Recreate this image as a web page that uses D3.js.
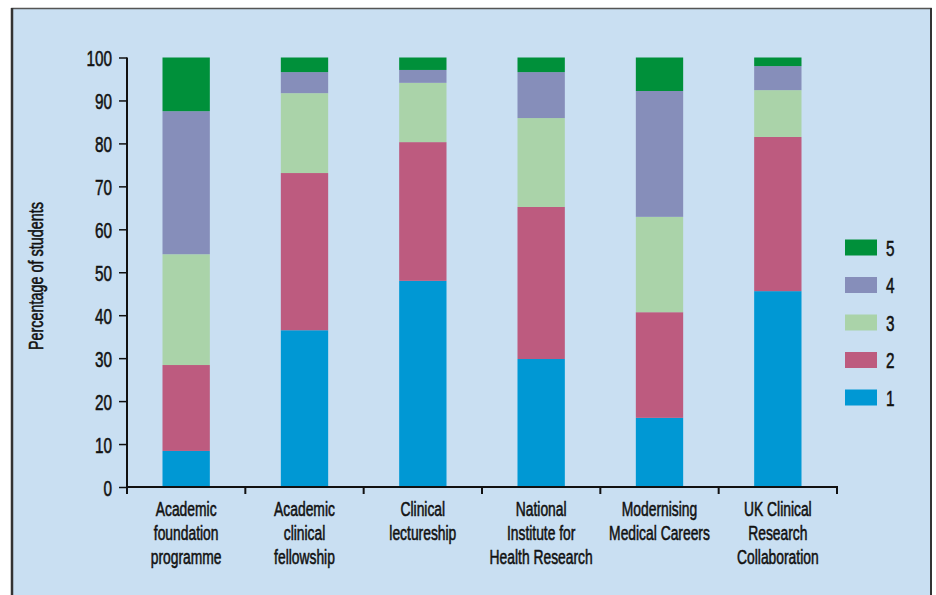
<!DOCTYPE html>
<html>
<head>
<meta charset="utf-8">
<script src="https://cdn.jsdelivr.net/npm/d3@7"></script>
<style>
  html, body { margin: 0; padding: 0; background: #ffffff; }
  svg { display: block; }
  text { font-family: "Liberation Sans", Arial, sans-serif; fill: #111; stroke: #111; stroke-width: 0.55px; }
</style>
</head>
<body>
<svg id="chart" width="936" height="595"></svg>
<script>
const categories = [
  ["Academic", "foundation", "programme"],
  ["Academic", "clinical", "fellowship"],
  ["Clinical", "lectureship"],
  ["National", "Institute for", "Health Research"],
  ["Modernising", "Medical Careers"],
  ["UK Clinical", "Research", "Collaboration"]
];
const seriesKeys = ["1", "2", "3", "4", "5"];
const s1 = [8.4, 36.5, 48.0, 29.8, 16.1, 45.6];
const s2 = [20.0, 36.6, 32.3, 35.4, 24.6, 35.9];
const s3 = [25.8, 18.6, 13.8, 20.7, 22.2, 10.9];
const s4 = [33.3, 4.9, 3.0, 10.7, 29.3, 5.6];
const s5 = [12.5, 3.4, 2.9, 3.4, 7.8, 2.0];
const yTicks = [0, 10, 20, 30, 40, 50, 60, 70, 80, 90, 100];
const colors = ["#0098d4", "#bd5b7f", "#aad3a9", "#868eba", "#00903a"];
const yTitle = "Percentage of students";

const svg = d3.select("#chart");

function condense(sel, f) {
  sel.each(function () {
    const L = this.getComputedTextLength();
    d3.select(this).attr("textLength", L * f).attr("lengthAdjust", "spacingAndGlyphs");
  });
}

// panel
svg.append("rect").attr("x", 12).attr("y", 8.5).attr("width", 919).attr("height", 600)
  .attr("fill", "#c9dff2").attr("stroke", "#555").attr("stroke-width", 1.5);
svg.append("line").attr("x1", 12).attr("x2", 12).attr("y1", 8).attr("y2", 595)
  .attr("stroke", "#333").attr("stroke-width", 2.5);
svg.append("line").attr("x1", 931).attr("x2", 931).attr("y1", 8).attr("y2", 595)
  .attr("stroke", "#333").attr("stroke-width", 2);

const x0 = 127, x1 = 837, y0 = 487, y1 = 57.5;
const x = d3.scaleBand().domain(d3.range(categories.length)).range([x0, x1])
  .paddingInner(0.6).paddingOuter(0.3);
const y = d3.scaleLinear().domain([0, 100]).range([y0, y1]);

const rows = categories.map((c, i) => ({ i, "1": s1[i], "2": s2[i], "3": s3[i], "4": s4[i], "5": s5[i] }));
const stacked = d3.stack().keys(seriesKeys)(rows);

svg.append("g").selectAll("g").data(stacked).join("g")
  .attr("fill", (d, k) => colors[k])
  .selectAll("rect").data(d => d).join("rect")
  .attr("x", d => x(d.data.i))
  .attr("width", x.bandwidth())
  .attr("y", d => y(d[1]))
  .attr("height", d => y(d[0]) - y(d[1]));

// y axis
const yAxis = svg.append("g").attr("transform", `translate(${x0},0)`)
  .call(d3.axisLeft(y).tickValues(yTicks).tickSize(8).tickPadding(7).tickFormat(d3.format("d")));
yAxis.select(".domain").attr("stroke", "#111").attr("stroke-width", 2).attr("d", `M0,${y1}V${y0 + 6}`);
yAxis.selectAll(".tick line").attr("stroke", "#111").attr("stroke-width", 1.5);
yAxis.selectAll(".tick text").attr("font-size", 22.5).attr("font-family", null).attr("fill", "#111").attr("dy", "0.36em");
condense(yAxis.selectAll(".tick text"), 0.68);

// x axis line and boundary ticks
const step = x.step();
const xb = svg.append("g");
xb.append("line").attr("x1", x0 - 1).attr("x2", x1 + 1).attr("y1", y0).attr("y2", y0)
  .attr("stroke", "#111").attr("stroke-width", 2);
xb.selectAll("line.bt").data(d3.range(categories.length + 1)).join("line").attr("class", "bt")
  .attr("x1", i => x0 + i * step).attr("x2", i => x0 + i * step)
  .attr("y1", y0).attr("y2", y0 + 7).attr("stroke", "#111").attr("stroke-width", 2);

// category labels (one text per line)
const lines = [];
categories.forEach((c, i) => c.forEach((t, j) => lines.push({ i, j, t })));
const cl = svg.append("g").selectAll("text").data(lines).join("text")
  .attr("text-anchor", "middle").attr("font-size", 19.5)
  .attr("x", d => x(d.i) + x.bandwidth() / 2)
  .attr("y", d => 516 + d.j * 24).text(d => d.t);
condense(cl, 0.71);

// y title
const yt = svg.append("text").attr("transform", "translate(43,276) rotate(-90)")
  .attr("text-anchor", "middle").attr("font-size", 20).text(yTitle);
condense(yt, 0.72);

// legend
const legendKeys = seriesKeys.slice().reverse();
const lg = svg.append("g").selectAll("g").data(legendKeys).join("g")
  .attr("transform", (d, i) => `translate(845,${247.5 + i * 37.5})`);
lg.append("rect").attr("x", 0).attr("y", -8).attr("width", 32).attr("height", 16)
  .attr("fill", d => colors[seriesKeys.indexOf(d)]);
const lt = lg.append("text").attr("x", 41).attr("y", 8).attr("font-size", 22.5).text(d => d);
condense(lt, 0.68);
</script>
</body>
</html>
